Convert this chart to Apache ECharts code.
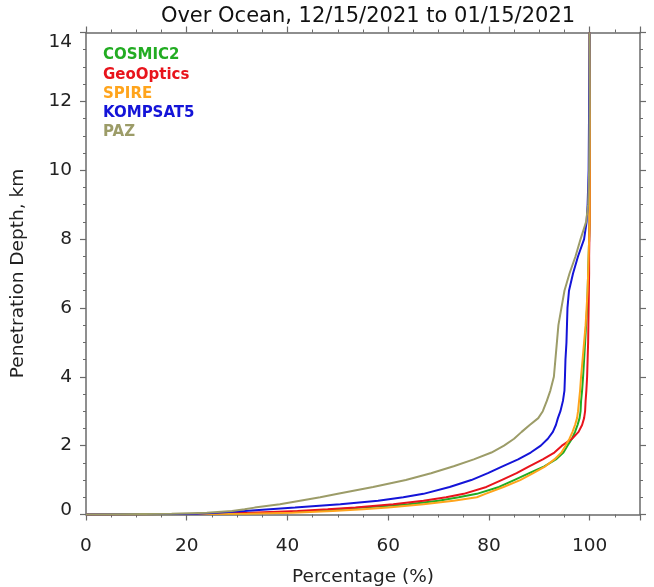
<!DOCTYPE html>
<html>
<head>
<meta charset="utf-8">
<script src="https://cdn.jsdelivr.net/npm/echarts@6/dist/echarts.min.js"></script>
<style>
  html, body { margin: 0; padding: 0; background: #fff; }
  #main { width: 654px; height: 587px; }
</style>
</head>
<body>
<div id="main"></div>
<script>
// depth levels (km) shared by every curve
const depth = [0, 0.02, 0.05, 0.1, 0.15, 0.2, 0.3, 0.4, 0.5, 0.6, 0.8, 1.0, 1.2, 1.4, 1.6, 1.8,
  2.0, 2.2, 2.4, 2.6, 2.8, 3.0, 3.3, 3.6, 4.0, 4.5, 5.0, 5.5, 6.0, 6.5, 7.0, 7.5, 8.0, 8.5, 9.0, 10, 12, 14]

// cumulative percentage at each depth
const cosmic2 = [0, 28, 37, 45, 50, 55, 64, 70, 74, 77.6, 82, 85, 88, 91, 93.3, 94.8,
  95.6, 96.5, 97.1, 97.6, 98.0, 98.2, 98.3, 98.5, 98.7, 98.9, 99.1, 99.3, 99.5, 99.6, 99.7, 99.8, 99.9, 100, 100, 100, 100, 100]
const geoOptics = [0, 24, 32.5, 42, 48, 53.5, 61, 67, 71.5, 75, 79.5, 82.5, 85.5, 88, 90.7, 93,
  94.5, 96.5, 97.8, 98.5, 98.9, 99.1, 99.2, 99.35, 99.5, 99.6, 99.7, 99.75, 99.8, 99.85, 99.9, 99.9, 99.95, 100, 100, 100, 100, 100]
const spire = [0, 32, 41, 49, 55, 60, 67, 73, 77.6, 79.3, 82.9, 86.2, 88.8, 91.2, 93.0, 94.4,
  95.2, 96.0, 96.6, 97.1, 97.5, 97.7, 97.9, 98.1, 98.3, 98.6, 98.9, 99.2, 99.4, 99.6, 99.7, 99.8, 99.9, 100, 100, 100, 100, 100]
const kompsat5 = [0, 22, 26, 31.5, 36.5, 41.5, 50.5, 58, 63, 67, 72.2, 76.5, 79.8, 82.7, 85.8, 88.3,
  90.3, 91.7, 92.7, 93.3, 93.7, 94.2, 94.7, 95.0, 95.1, 95.2, 95.4, 95.5, 95.6, 95.9, 96.7, 97.7, 98.9, 99.4, 99.6, 99.8, 99.9, 100]
const paz = [0, 17, 24, 29, 31.5, 33.5, 38.5, 42.5, 46.5, 50, 57, 63.5, 68.5, 73, 77, 80.5,
  83, 85, 86.5, 88.1, 89.8, 90.7, 91.5, 92.2, 92.9, 93.2, 93.5, 93.8, 94.4, 95.0, 96.0, 97.2, 98.2, 99.3, 99.7, 99.9, 100, 100]

const names = ['COSMIC2', 'GeoOptics', 'SPIRE', 'KOMPSAT5', 'PAZ']
const colors = ['#22ac22', '#e8141c', '#ffa41c', '#1414d8', '#9c9c68']
const values = [cosmic2, geoOptics, spire, kompsat5, paz]

const font = 'DejaVu Sans'
const axisGrey = '#6a6a6a'
const labelStyle = { fontFamily: font, fontSize: 18.5, color: '#222' }

function boxAxis(extra) {
  return Object.assign({
    type: 'value',
    axisLine: { show: true, onZero: false, lineStyle: { color: axisGrey, width: 1.5 } },
    axisTick: { show: true, inside: false, length: 6, lineStyle: { color: axisGrey, width: 1.2 } },
    minorTick: { show: true, splitNumber: 4, length: 3, lineStyle: { color: axisGrey, width: 1 } },
    splitLine: { show: false },
    axisLabel: { show: false },
  }, extra)
}

let myChart = echarts.init(document.getElementById('main'))
let option = {
  backgroundColor: '#fff',
  animation: false,
  title: {
    text: 'Over Ocean, 12/15/2021 to 01/15/2021',
    left: 363,
    textAlign: 'center',
    top: 1,
    textStyle: { fontFamily: font, fontSize: 21, fontWeight: 'normal', color: '#111' },
  },
  legend: {
    orient: 'vertical',
    left: 93,
    top: 43,
    icon: 'none',
    itemWidth: 0,
    itemHeight: 14,
    itemGap: 4.2,
    selectedMode: false,
    data: names.map((n, i) => ({
      name: n,
      textStyle: { color: colors[i], fontFamily: font, fontSize: 15, fontWeight: 'bold' },
    })),
  },
  grid: { left: 86, right: 14, top: 32.5, bottom: 72.5, outerBoundsMode: 'none' },
  xAxis: [
    boxAxis({
      position: 'bottom', min: 0, max: 110, interval: 20,
      name: 'Percentage (%)', nameLocation: 'middle', nameGap: 53,
      nameTextStyle: labelStyle,
      axisLabel: Object.assign({
        show: true, margin: 22,
        formatter: v => (v > 100 ? '' : v),
      }, labelStyle),
    }),
    boxAxis({ position: 'top', min: 0, max: 110, interval: 20 }),
  ],
  yAxis: [
    boxAxis({
      position: 'left', min: 0, max: 14, interval: 2,
      name: 'Penetration Depth, km', nameLocation: 'middle', nameGap: 58,
      nameTextStyle: labelStyle,
      axisLabel: Object.assign({
        show: true, margin: 14,
        // end labels sit a little inside the frame
        formatter: v => (v === 14 ? '{top|14}' : v === 0 ? '{bot|0}' : String(v)),
        rich: {
          top: Object.assign({ padding: [20, 0, 0, 0] }, labelStyle),
          bot: Object.assign({ padding: [0, 0, 8, 0] }, labelStyle),
        },
      }, labelStyle),
    }),
    boxAxis({ position: 'right', min: 0, max: 14, interval: 2 }),
  ],
  series: names.map((n, i) => ({
    name: n,
    type: 'line',
    xAxisIndex: 0,
    yAxisIndex: 0,
    symbol: 'none',
    color: colors[i],
    lineStyle: { width: 2, color: colors[i] },
    z: 2 + i,
    data: depth.map((d, k) => [values[i][k], d]),
  })),
}
myChart.setOption(option)
</script>
</body>
</html>
